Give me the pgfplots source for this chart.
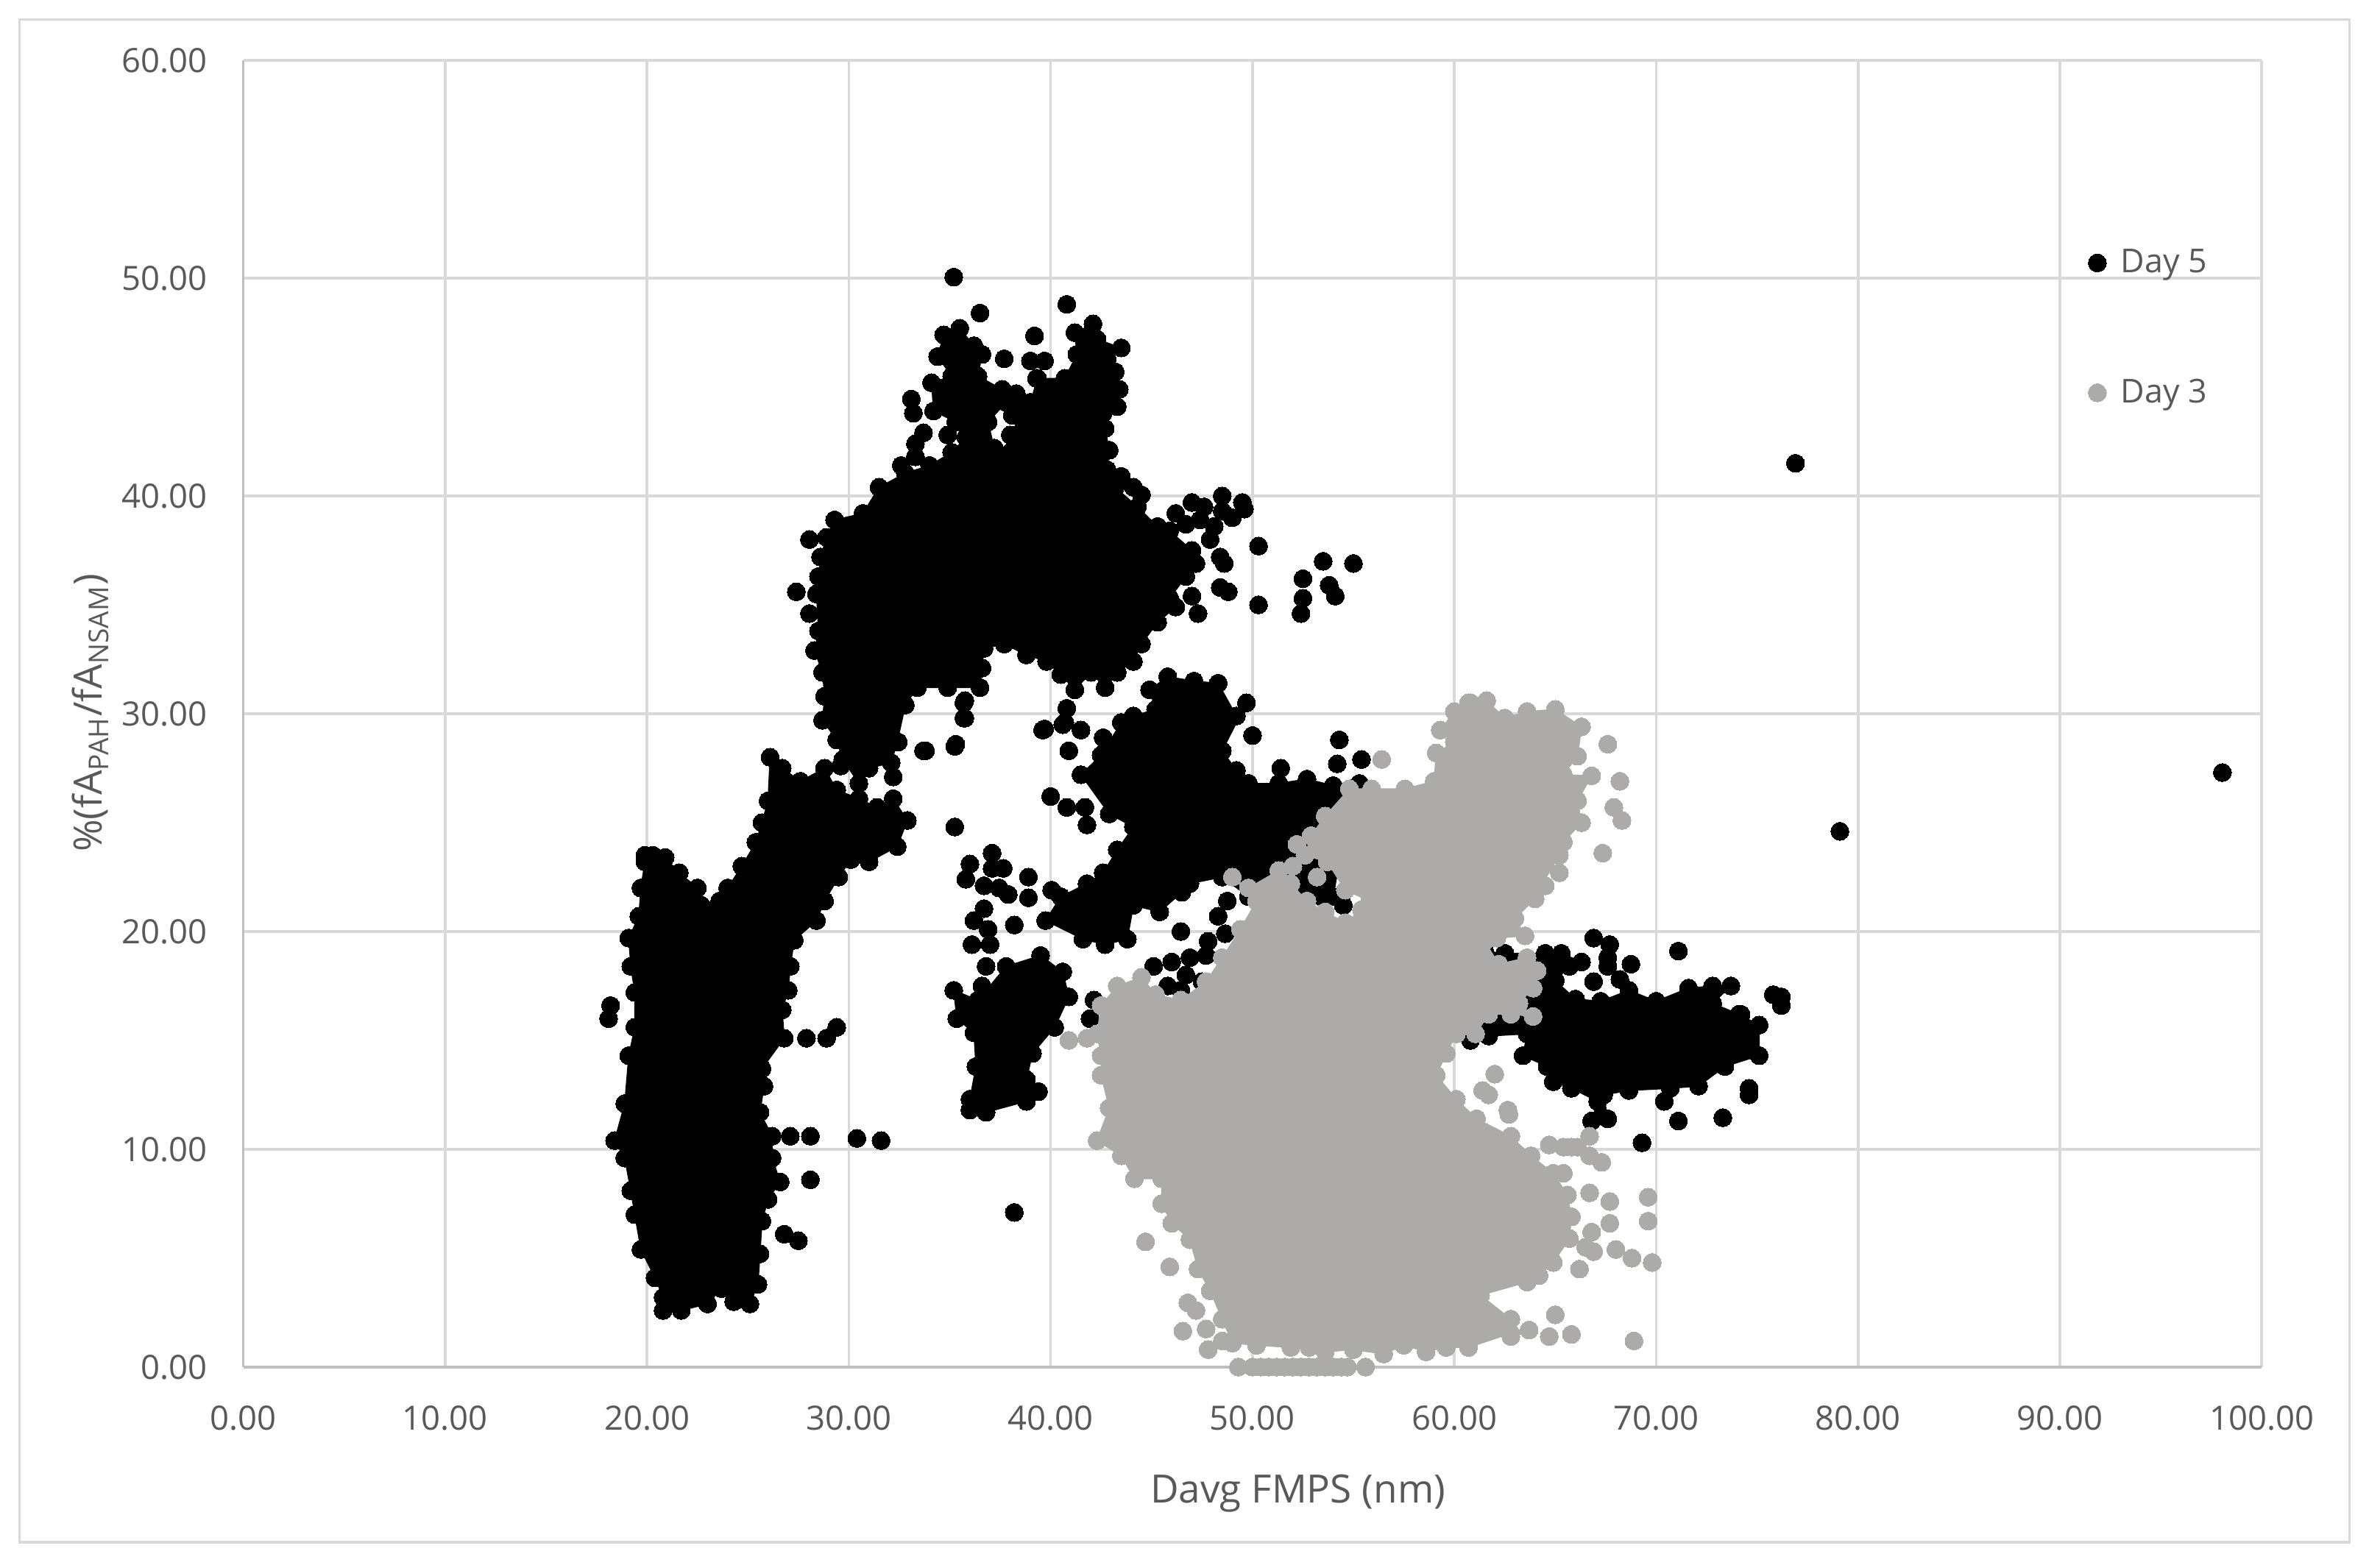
\documentclass[border=0pt]{standalone}
\usepackage{fontspec}
\setmainfont{Open Sans}
\usepackage{pgfplots}
\pgfplotsset{compat=1.18}
\definecolor{txt}{HTML}{595959}
\definecolor{gridc}{HTML}{D9D9D9}
\definecolor{axc}{HTML}{BFBFBF}
\definecolor{dayg}{HTML}{ADAAAA}
\pgfplotsset{
  blob/.style={draw=#1, fill=#1, line width=0.4pt, mark=*, mark size=3.4pt,
    mark options={draw=#1, fill=#1, line width=0pt}, forget plot},
  dots/.style={only marks, mark=*, mark size=3.4pt,
    mark options={draw=#1, fill=#1, line width=0pt}},
  sameframe/.style={
    at={(3.22cm,2.66cm)}, anchor=south west,
    scale only axis, width=26.72cm, height=17.30cm,
    xmin=0, xmax=100, ymin=0, ymax=60, clip=false},
}
\begin{document}
\begin{tikzpicture}
\path[use as bounding box, fill=white] (0,0) rectangle (31.36,20.76);
\draw[gridc, line width=1pt] (0.26,0.34) rectangle (31.10,20.50);
\begin{axis}[
  sameframe,
  xtick distance=10, ytick distance=10,
  axis lines=left, axis line style={-, draw=axc, line width=1pt},
  major tick length=0pt,
  grid=major, grid style={draw=gridc, line width=1pt},
  tick label style={font=\fontsize{12.6}{15}\selectfont, text=txt},
  x tick label style={yshift=-11pt},
  y tick label style={xshift=-10pt},
  /pgf/number format/.cd, fixed, fixed zerofill, precision=2, assume math mode=true,
  /pgfplots/.cd,
  xlabel={Davg FMPS (nm)},
  ylabel={\%(fA\textsubscript{PAH}/fA\textsubscript{NSAM})},
  label style={font=\fontsize{14.7}{17}\selectfont, text=txt},
  xlabel style={at={(axis description cs:0.5225,-0.097)}, anchor=center},
  ylabel style={at={(axis description cs:-0.0756,0.5006)}, anchor=center},
]
% Day 5: dense clusters, outline points
\addplot[blob=black] coordinates {
 (19.9,23.5)(20.3,23.5)(20.9,23.4)(21.6,22.7)(22.5,22.0)(22.7,21.2)(23.6,21.4)(24.0,22.0)
 (24.7,23.0)(25.4,24.1)(25.7,25.0)(26.0,26.0)(26.1,28.0)(26.7,27.5)(27.6,26.9)(28.8,27.5)(29.4,26.5)
 (30.5,26.1)(31.4,25.7)(32.2,26.1)(32.9,25.1)(32.4,23.9)(31.0,23.2)(30.1,23.3)(29.5,22.5)(28.8,21.4)
 (28.4,20.5)(27.3,19.6)(27.1,18.4)(27.0,17.3)(26.7,16.4)(26.8,15.1)(25.7,13.7)(25.8,12.9)
 (25.6,11.7)(26.2,10.6)(26.2,9.6)(26.6,8.5)(26.0,7.7)(25.7,6.7)(25.6,5.2)(25.5,3.8)(25.1,2.9)
 (24.3,3.0)(23.7,3.6)(23.0,2.9)(21.7,2.6)(20.8,2.6)(20.8,3.2)(20.4,4.1)(19.7,5.4)(19.4,7.0)
 (19.2,8.1)(18.9,9.6)(18.4,10.4)(18.9,12.1)(19.1,14.3)(19.4,15.6)(19.4,17.2)(19.2,18.4)
 (19.1,19.7)(19.6,20.7)(19.7,22.0)(19.9,23.2)
} -- cycle;
\addplot[blob=black] coordinates {
 (29.7,27.9)(29.4,28.8)(28.7,29.7)(28.8,30.8)(28.7,31.9)(28.3,32.9)(28.5,33.8)(28.4,35.5)
 (28.5,36.3)(28.6,37.2)(28.9,38.1)(29.3,38.9)(30.7,39.2)(31.5,40.4)(32.8,41.05)(34.0,41.4)
 (35.1,42.0)(35.8,42.7)(35.3,43.4)(34.2,43.9)(34.1,45.2)(35.1,45.5)(34.4,46.4)(34.7,47.4)
 (35.5,47.7)(36.2,46.9)(36.6,46.5)(36.4,45.5)(37.6,44.9)(37.8,44.3)(36.9,43.4)(37.2,42.2)
 (38.0,42.0)(38.4,42.8)(38.1,43.7)(38.3,44.7)(39.0,44.3)(39.35,45.4)(40.7,45.4)(41.3,46.5)
 (41.2,47.5)(42.1,47.9)(42.3,47.2)(43.5,46.8)(42.8,46.3)(43.2,45.7)(43.4,44.9)(43.3,44.1)
 (42.6,43.8)(42.7,43.1)(42.9,42.1)(42.8,41.2)(43.2,40.4)(44.3,39.5)(45.3,38.6)(45.9,38.4)
 (47.0,37.5)(47.2,36.9)(46.7,36.3)(45.9,35.3)(46.2,34.9)(45.3,34.2)(44.5,33.2)(44.1,32.4)
 (43.3,31.9)(42.7,31.2)(42.0,31.9)(41.2,31.1)(40.5,31.8)(39.8,32.4)(38.8,32.7)(37.7,33.2)
 (36.7,33.0)(36.6,32.1)(36.5,31.2)(34.9,31.2)(33.4,31.2)(32.8,30.4)(32.4,28.7)(32.1,27.75)
 (31,27.5)(30.5,26.8)
} -- cycle;
\addplot[blob=black] coordinates {
 (44.9,31.1)(45.8,31.7)(47.1,31.5)(48.3,31.4)(49.2,29.9)(49.7,30.5)(48.5,28.3)(49.2,27.4)
 (49.8,26.8)(51.3,26.8)(52.7,27.0)(54.0,26.7)(55.3,26.8)(54.4,23.75)(54.0,21.6)
 (52.0,21.5)(49.8,21.6)(48.5,22.5)(46.9,22.2)(46.5,21.8)(45.4,20.9)(44.1,21.2)(43.8,19.65)
 (42.7,19.4)(41.6,19.65)(39.75,20.5)(40.5,21.6)(41.8,22.2)(42.6,22.7)(43.3,23.75)(44.1,24.8)
 (42.9,25.4)(41.5,27.2)(42.5,28.1)(43.5,29.6)(44.1,29.9)(45.2,30.2)
} -- cycle;
\addplot[blob=black] coordinates {
 (35.2,17.3)(36.4,16.85)(37.8,18.4)(39.5,18.9)(40.6,18.15)(40.9,17.0)(40.2,15.6)(39.1,14.4)
 (38.8,13.2)(39.4,12.65)(38.8,12.2)(36.8,11.7)(36.0,11.8)(36.0,12.3)(36.3,13.8)(36.2,15.35)(35.35,16.0)
} -- cycle;
\addplot[blob=black] coordinates {
 (61.5,19.1)(62.5,19.0)(64.5,19.0)(65.3,19.0)(66.3,18.6)(65.7,18.4)(65.0,17.75)(66.0,16.9)
 (67.25,16.8)(68.65,17.3)(70.0,16.8)(71.6,17.4)(72.8,17.5)(73.7,17.5)(72.8,16.7)(74.1,16.2)
 (75.1,15.7)(75.1,14.3)(73.4,13.8)(72.1,12.9)(70.7,12.8)(68.65,12.7)(67.4,12.5)(67.6,11.4)
 (66.8,11.3)(67.1,12.2)(65.8,12.8)(64.9,13.1)(64.6,13.8)(63.4,14.3)(63.6,15.3)(61.7,15.2)
 (60.8,15.0)(61.0,17.3)
} -- cycle;
% Day 5: single points
\addplot[dots=black, forget plot] coordinates {
 (18.2,16.6)(18.1,16.0)(27.1,10.6)(28.1,10.6)(30.4,10.5)(31.6,10.4)(26.6,8.5)(28.1,8.6)
 (26.8,6.1)(27.5,5.8)(27.9,15.1)(28.9,15.1)(29.4,15.6)(33.8,28.3)(29.6,27.6)(32.2,27.1)
 (35.2,50.05)(36.5,48.4)(40.8,48.8)(39.2,47.35)(37.7,46.3)(39.0,46.2)(39.7,46.2)(39.3,45.4)
 (33.1,44.45)(33.2,43.8)(33.7,42.9)(33.3,42.4)(33.3,41.8)(32.6,41.4)(34.9,42.8)(38.0,42.8)
 (28.05,38.0)(27.4,35.6)(28.05,34.6)(43.5,40.9)(44.1,40.4)(44.5,40.05)
 (46.2,39.2)(46.7,38.7)(47.0,39.7)(47.6,39.5)(47.4,38.9)(48.1,38.6)(47.9,38.0)(48.5,40.0)
 (49.0,39.0)(49.5,39.7)(49.6,39.4)(48.5,39.3)(48.6,36.9)(48.4,37.2)(48.4,35.8)(48.8,35.6)
 (47.0,35.4)(47.3,34.6)(50.3,37.7)(50.3,35.0)(52.5,36.2)(52.5,35.3)(52.4,34.6)(53.5,37.0)
 (55.0,36.9)(53.8,35.9)(54.1,35.4)(35.75,30.6)(35.75,29.8)(35.3,28.6)(33.7,28.3)(32.45,28.7)
 (40.8,30.25)(39.7,29.3)(40.6,29.5)(40.9,28.3)(39.6,29.25)(40.7,29.6)(41.5,29.25)(42.6,28.9)
 (40.9,28.3)(40.0,26.2)(40.8,25.7)(41.7,25.7)(41.8,24.9)(50.0,29.0)(54.3,28.8)(54.2,27.7)
 (55.4,27.9)(51.4,27.5)(35.25,24.8)(35.25,28.5)(35.7,29.8)(35.7,30.5)
 (37.1,23.6)(36.0,23.1)(35.8,22.4)(37.65,22.9)(37.9,21.7)(36.7,22.1)(36.7,21.05)(36.2,20.5)
 (36.9,20.1)(36.1,19.4)(36.8,18.4)(37.0,19.4)(37.1,22.9)(37.45,22.0)(36.6,17.5)
 (38.9,22.5)(38.9,21.55)(38.2,20.3)(40.05,21.9)(38.2,7.1)(46.45,20.0)(45.1,18.4)(46.0,18.6)
 (46.9,18.8)(47.8,19.55)(47.7,18.9)(46.7,18.0)(48.65,19.9)(48.3,20.7)(48.75,21.4)(45.8,17.5)
 (47.5,17.7)(46.45,17.3)(42.15,16.85)(41.95,16.0)(53.4,21.6)(54.5,21.2)
 (66.9,19.7)(67.7,19.4)(67.6,18.8)(67.6,18.4)(68.75,18.5)(66.9,17.7)(68.2,17.8)(71.1,19.1)
 (75.8,17.1)(76.2,17.0)(76.2,16.6)(74.2,16.2)(74.6,12.8)(74.6,12.5)(73.3,11.45)(71.1,11.3)
 (70.4,12.2)(69.3,10.3)(76.9,41.5)(98.05,27.3)(79.1,24.6)
};
\end{axis}
% second axis on the same frame, so Day 3 lies over Day 5
\begin{axis}[
  sameframe,
  hide axis,
  legend style={at={(axis description cs:0.9138,0.860)}, anchor=north west,
    draw=none, fill=none, font=\fontsize{12.4}{15}\selectfont, text=txt,
    row sep=34.5pt, inner sep=0pt},
  legend cell align=left,
]
\addlegendimage{dots=black}
\addlegendentry{\hspace{3.4pt}Day 5}
% Day 3: dense cluster, outline points
\addplot[blob=dayg] coordinates {
 (60.8,30.5)(61.6,30.6)(62.5,29.8)(63.6,30.1)(65.0,30.2)(66.3,29.4)(66.1,28.05)(65.4,27.2)
 (66.8,27.15)(66.1,26.0)(66.3,25.0)(65.4,24.1)(65.2,23.5)(64.3,22.1)(64.0,21.5)(63.0,20.6)
 (63.5,19.8)(62.1,19.7)(61.5,19.55)(62.2,18.5)(63.6,18.8)(64.1,18.2)(63.9,17.4)(63.2,16.7)
 (63.9,16.1)(62.8,16.2)(61.7,16.2)(61.05,15.3)(60.1,15.3)(59.6,14.4)(59.1,13.4)(60.1,12.3)
 (61.1,11.4)(62.8,10.6)(63.8,9.7)(64.9,8.9)(65.6,7.9)(65.8,6.9)(65.7,5.9)(64.9,4.8)(64.2,4.2)
 (63.6,3.9)(61.3,3.3)(62.8,2.2)(62.8,1.55)(60.7,0.9)(59.6,0.9)(58.6,0.7)(57.5,1.0)(56.5,0.6)
 (55.0,0.8)(53.6,0.7)(52.8,0.9)(51.9,0.9)(50.2,1.0)(49.0,1.1)(48.5,2.2)
 (47.9,3.5)(47.3,4.5)(46.9,5.85)(46.0,6.6)(45.5,7.5)(45.5,8.65)(44.15,8.65)(43.5,9.7)(42.3,10.4)
 (42.9,11.9)(42.5,13.4)(42.5,14.3)(42.3,15.3)(42.5,16.6)(43.3,17.5)(44.5,17.9)(45.2,17.1)
 (46.45,16.85)(47.7,17.7)(48.5,18.8)(49.4,20.1)(50.2,21.4)(49.0,22.5)(49.8,22.0)(51.3,22.8)
 (51.9,22.2)(52.7,21.4)(53.6,20.9)(54.6,20.4)(55.4,21.0)(55.8,21.4)(54.6,21.9)(53.7,23.2)
 (52.6,23.5)(52.9,24.4)(53.6,25.3)(54.8,26.55)(55.9,26.55)(57.55,26.55)(59.0,26.9)(59.1,28.2)
 (60.0,28.7)(59.3,29.25)(60.0,30.1)(60.7,30.5)
} -- cycle;
% Day 3: single points
\addplot[dots=dayg] coordinates {
 (56.4,27.9)(41.8,15.1)(40.9,15.0)(44.7,5.75)(45.9,4.6)(46.8,2.95)(46.55,1.65)(47.7,1.75)(47.8,0.8)
 (48.5,1.2)(47.2,2.6)(49.3,0)(50.0,0)(50.4,0)(50.8,0)(51.2,0)(51.6,0)(52.0,0)(52.4,0)(52.8,0)
 (53.2,0)(53.6,0)(54.0,0)(54.4,0)(54.7,0)(55.6,0)
 (67.6,28.6)(68.2,26.9)(67.9,25.7)(68.3,25.1)(67.35,23.6)(65.2,22.7)(64.5,22.1)
 (62.0,13.45)(61.4,12.7)(61.7,12.5)(62.65,11.8)(62.7,11.6)(64.7,10.2)(65.4,10.1)(66.1,10.1)
 (66.7,10.6)(66.7,9.7)(65.4,8.9)(67.7,7.6)(69.6,6.7)(67.7,6.6)(66.8,6.2)(66.9,5.3)(68.0,5.4)
 (68.8,5.0)(69.8,4.8)(69.6,7.8)(68.9,1.2)(65.8,1.5)(64.7,1.4)(65.0,2.4)(63.7,1.7)(62.8,1.4)
 (66.7,8.0)(66.2,4.5)(66.5,5.5)(67.3,9.4)(65.8,10.1)(52.2,24.0)(52.0,23.0)(53.2,22.5)
};
\addlegendentry{\hspace{3.4pt}Day 3}
\end{axis}
\end{tikzpicture}
\end{document}
